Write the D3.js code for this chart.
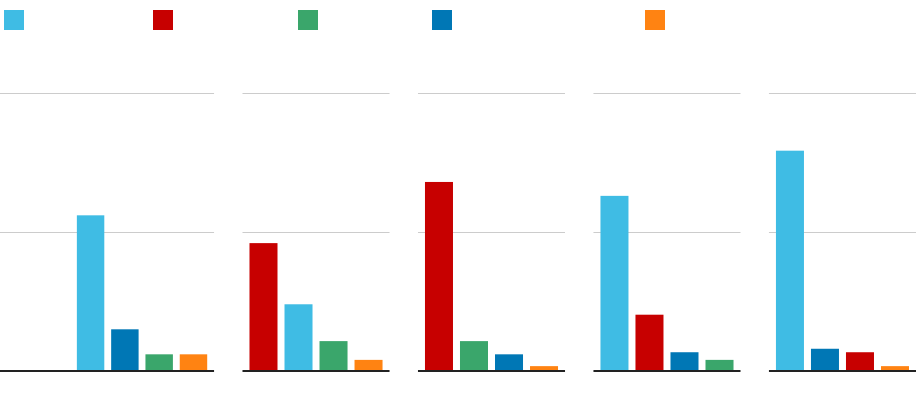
<!DOCTYPE html>
<html>
<head>
<meta charset="utf-8">
<script src="https://cdn.jsdelivr.net/npm/d3@7"></script>
<style>
  html, body { margin: 0; padding: 0; background: #fff; }
  svg { display: block; font-family: "Liberation Sans", Arial, sans-serif; }
</style>
</head>
<body>
<svg id="chart" width="920" height="420"></svg>
<script>
// ---- data ----
const seriesNames = ["A", "B", "C", "D", "E"];
const seriesColors = ["#3fbce4", "#c70000", "#3aa66b", "#0077b5", "#ff8312"];
const panels = ["P1", "P2", "P3", "P4", "P5"];
const panelSeries = [
  ["A", "D", "C", "E"],
  ["B", "A", "C", "E"],
  ["B", "C", "D", "E"],
  ["A", "B", "D", "C"],
  ["A", "D", "B", "E"]
];
const panelValues = [
  [22.4, 6.0, 2.4, 2.4],
  [18.4, 9.6, 4.3, 1.6],
  [27.2, 4.3, 2.4, 0.7],
  [25.2, 8.1, 2.7, 1.6],
  [31.7, 3.2, 2.7, 0.7]
];
const yTicks = [0, 20, 40];

// ---- layout ----
const W = 920, H = 420;
const margin = { top: 93, right: 4, bottom: 49, left: 67 };
const legendX = [4, 153, 298, 432, 645];

const svg = d3.select("#chart");
const color = d3.scaleOrdinal().domain(seriesNames).range(seriesColors);

const xPanel = d3.scaleBand().domain(panels)
  .range([margin.left, W - margin.right]).paddingInner(0.162);
const y = d3.scaleLinear().domain([0, 40]).range([H - margin.bottom, margin.top]);

// legend
const legend = svg.append("g");
seriesNames.forEach((s, i) => {
  legend.append("rect")
    .attr("x", legendX[i]).attr("y", 10)
    .attr("width", 20).attr("height", 20)
    .attr("fill", color(s));
});

panels.forEach((p, pi) => {
  const x0 = xPanel(p);
  const bw = xPanel.bandwidth();
  const g = svg.append("g").attr("transform", `translate(${x0},0)`);
  const gridStart = pi === 0 ? -x0 : 0;

  // gridlines
  g.selectAll("line.grid").data(yTicks.filter(t => t > 0)).enter().append("line")
    .attr("x1", gridStart).attr("x2", bw)
    .attr("y1", d => Math.round(y(d)) + 0.5).attr("y2", d => Math.round(y(d)) + 0.5)
    .attr("stroke", "#cccccc").attr("stroke-width", 1);

  const innerStart = pi === 0 ? 3 : 0;
  const xb = d3.scaleBand().domain(panelSeries[pi])
    .range([innerStart, bw]).paddingInner(0.2).paddingOuter(0.2);

  g.selectAll("rect.bar").data(panelSeries[pi].map((s, i) => ({ s, v: panelValues[pi][i] })))
    .enter().append("rect")
    .attr("x", d => xb(d.s))
    .attr("width", xb.bandwidth())
    .attr("y", d => y(d.v))
    .attr("height", d => y(0) - y(d.v))
    .attr("fill", d => color(d.s));

  // baseline
  g.append("line")
    .attr("x1", gridStart).attr("x2", bw)
    .attr("y1", y(0)).attr("y2", y(0))
    .attr("stroke", "#222").attr("stroke-width", 2);
});
</script>
</body>
</html>
